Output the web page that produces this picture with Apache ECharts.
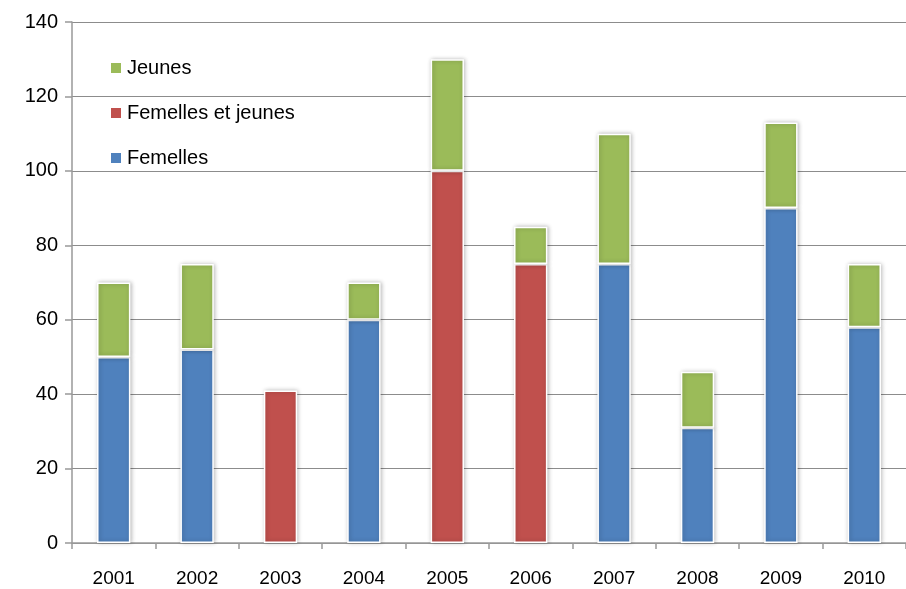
<!DOCTYPE html>
<html>
<head>
<meta charset="utf-8">
<script src="https://cdn.jsdelivr.net/npm/echarts@6/dist/echarts.min.js"></script>
<style>
  html, body { margin: 0; padding: 0; background: #fff; }
  #chart { width: 906px; height: 589px; }
</style>
</head>
<body>
<div id="chart"></div>
<script>
  var years = ['2001', '2002', '2003', '2004', '2005', '2006', '2007', '2008', '2009', '2010'];
  var femelles = [50, 52, null, 60, null, null, 75, 31, 90, 58];
  var femellesJeunes = [null, null, 41, null, 100, 75, null, null, null, null];
  var jeunes = [20, 23, null, 10, 30, 10, 35, 15, 23, 17];

  var font = '"Liberation Sans", Arial, sans-serif';

  function seg(name, data, color) {
    return {
      name: name,
      type: 'bar',
      stack: 'total',
      barWidth: '40%',
      data: data,
      itemStyle: {
        color: color,
        borderColor: '#fff',
        borderWidth: 1.5,
        shadowBlur: 4,
        shadowColor: 'rgba(0,0,0,0.25)',
        shadowOffsetX: 1
      }
    };
  }

  var chart = echarts.init(document.getElementById('chart'));
  chart.setOption({
    animation: false,
    backgroundColor: '#fff',
    grid: { left: 72, right: 0, top: 22, bottom: 46 },
    legend: {
      orient: 'vertical',
      left: 104,
      top: 53,
      itemWidth: 12,
      itemHeight: 12,
      itemGap: 25,
      icon: 'rect',
      data: ['Jeunes', 'Femelles et jeunes', 'Femelles'],
      textStyle: { fontFamily: font, fontSize: 20, color: '#000' }
    },
    xAxis: {
      type: 'category',
      data: years,
      axisLine: { lineStyle: { color: '#999', width: 1.5 } },
      axisTick: { show: true, length: 6, lineStyle: { color: '#999', width: 1.5 } },
      axisLabel: { fontFamily: font, fontSize: 19, color: '#000', margin: 26 }
    },
    yAxis: {
      type: 'value',
      min: 0,
      max: 140,
      interval: 20,
      axisLine: { show: true, lineStyle: { color: '#999', width: 1.5 } },
      axisTick: { show: true, length: 7, lineStyle: { color: '#999', width: 1.5 } },
      splitLine: { lineStyle: { color: '#8c8c8c', width: 1 } },
      axisLabel: { fontFamily: font, fontSize: 20, color: '#000', margin: 14 }
    },
    series: [
      seg('Femelles', femelles, '#4F81BD'),
      seg('Femelles et jeunes', femellesJeunes, '#C0504D'),
      seg('Jeunes', jeunes, '#9BBB59')
    ]
  });
</script>
</body>
</html>
